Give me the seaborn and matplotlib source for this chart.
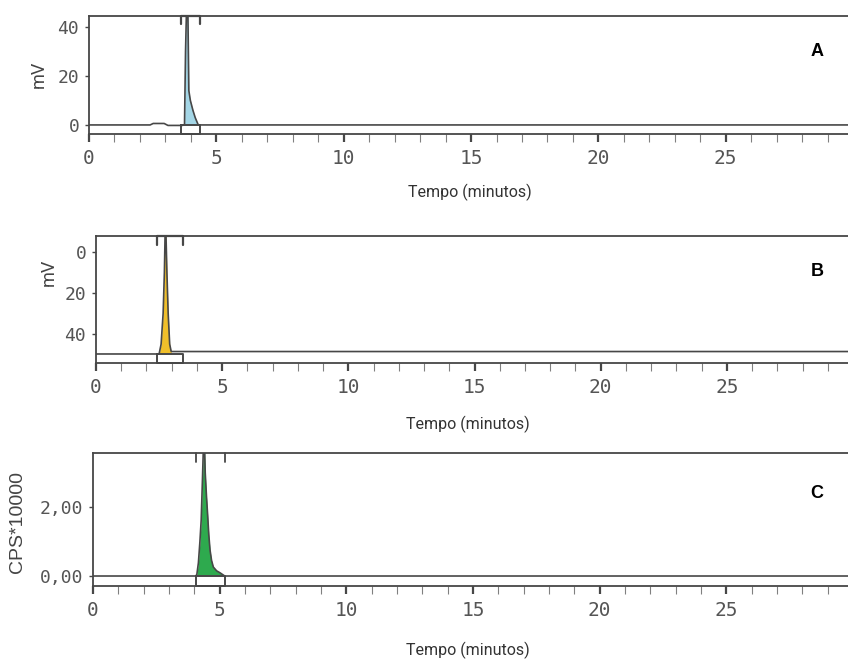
import numpy as np
import pandas as pd
import matplotlib
matplotlib.use("Agg")
import matplotlib.pyplot as plt
import seaborn as sns
from matplotlib.transforms import blended_transform_factory

# ---- chromatogram traces (time in minutes) ----
minute_ticks = [0, 5, 10, 15, 20, 25]

a_time = [0.0, 2.40, 2.52, 2.95, 3.10, 3.65, 3.75, 3.79, 3.83, 3.88, 3.92, 3.98, 4.08, 4.17, 4.29, 4.40, 30.0]
a_mv = [0.0, 0.0, 0.6, 0.6, -0.2, -0.2, 0.0, 30.0, 48.0, 48.0, 14.0, 10.0, 6.0, 3.0, 0.0, 0.0, 0.0]
a_yticks = [0, 20, 40]
a_window = (3.60, 4.35)
a_fill = (3.74, 4.30)

b_time = [0.0, 2.50, 2.58, 2.66, 2.71, 2.74, 2.77, 2.81, 2.86, 2.92, 2.98, 30.0]
b_mv = [49.8, 49.8, 45.0, 30.0, 10.0, -10.0, -10.0, 10.0, 30.0, 45.0, 48.6, 48.6]
b_yticks = [0, 20, 40]
b_window = (2.42, 3.45)
b_fill = (2.50, 2.98)

c_time = [0.0, 4.06, 4.10, 4.16, 4.22, 4.27, 4.32, 4.36, 4.40, 4.43, 4.48, 4.52, 4.57, 4.62, 4.68, 4.75, 4.88, 5.02, 5.20, 30.0]
c_cps = [0.0, 0.0, 0.05, 0.38, 1.00, 1.62, 2.80, 3.80, 3.80, 2.99, 2.30, 1.83, 1.20, 0.75, 0.45, 0.26, 0.15, 0.09, 0.0, 0.0]
c_yticks = [0.0, 2.0]
c_yticklabels = ["0,00", "2,00"]
c_window = (4.05, 5.20)
c_fill = (4.08, 5.20)

LINE = "#474747"
W, H = 848, 664

sns.set_theme(style="white")
plt.rcParams["font.family"] = ["DejaVu Sans"]

fig = plt.figure(figsize=(W / 100, H / 100), dpi=100)


def axes_at(left_px, top_px, bottom_px):
    return fig.add_axes([left_px / W, 1 - bottom_px / H,
                         (W - left_px) / W, (bottom_px - top_px) / H])


def draw_panel(ax, time, signal, base, fill_color, fill_span, window,
               ylim, yticks, yticklabels, top_bracket=True):
    df = pd.DataFrame({"t": time, "v": signal})
    t = np.asarray(time)
    v = np.asarray(signal)
    mask = (t >= fill_span[0]) & (t <= fill_span[1])
    ax.fill_between(t, base, v, where=mask, color=fill_color, lw=0, interpolate=True)
    sns.lineplot(data=df, x="t", y="v", ax=ax, color=LINE, lw=1.2,
                 estimator=None, sort=False)
    ax.set_xlim(0, 29.8)
    ax.set_ylim(*ylim)
    ax.set_xlabel("")
    ax.set_ylabel("")

    # integration window: box under the baseline and marks on the top edge
    bottom = ylim[0]
    ax.plot([window[0], window[0], window[1], window[1], window[0]],
            [base, bottom, bottom, base, base], color=LINE, lw=1.4, clip_on=False)
    trans = blended_transform_factory(ax.transData, ax.transAxes)
    if top_bracket:
        ax.plot([window[0], window[0], window[1], window[1]], [0.93, 1.0, 1.0, 0.93],
                color=LINE, lw=1.6, transform=trans, clip_on=False)
    else:
        for w in window:
            ax.plot([w, w], [0.93, 1.0], color=LINE, lw=1.3, transform=trans, clip_on=False)

    ax.set_xticks(minute_ticks)
    ax.set_xticks(np.arange(0, 30, 1), minor=True)
    ax.set_yticks(yticks)
    ax.set_yticklabels(yticklabels)
    ax.tick_params(axis="x", which="major", bottom=True, direction="out", length=6,
                   width=1.6, color=LINE, labelsize=14, labelcolor="#555555", pad=5,
                   labelfontfamily="DejaVu Sans Mono")
    ax.tick_params(axis="x", which="minor", bottom=True, direction="out", length=6,
                   width=0.8, color="#808080")
    ax.tick_params(axis="y", which="major", left=True, direction="out", length=3,
                   width=1.0, color=LINE, labelsize=13, labelcolor="#555555", pad=4,
                   labelfontfamily="DejaVu Sans Mono")
    ax.spines["right"].set_visible(False)
    for side in ("left", "top", "bottom"):
        ax.spines[side].set_color(LINE)
        ax.spines[side].set_linewidth(1.3)
    ax.set_facecolor("white")


def fig_text(x_px, y_px, s, **kw):
    fig.text(x_px / W, 1 - y_px / H, s, ha="center", va="center", **kw)


narrow = ["Roboto", "DejaVu Sans"]
arial = ["Liberation Sans", "DejaVu Sans"]

# Panel A
ax_a = axes_at(89, 16, 134)
draw_panel(ax_a, a_time, a_mv, 0.0, "#a4d6e6", a_fill, a_window,
           (-3.7, 44.5), a_yticks, [str(v) for v in a_yticks])
fig_text(39, 74, "mV", rotation=90, fontsize=13, color="#444444", family=narrow)
fig_text(470, 192, "Tempo (minutos)", fontsize=11.5, color="#333333", family=narrow)
fig_text(817, 52, "A", fontsize=13, fontweight="bold", color="black", family=arial)

# Panel B (inverted mV scale)
ax_b = axes_at(96, 236, 363)
draw_panel(ax_b, b_time, b_mv, 49.8, "#f0bf2a", b_fill, b_window,
           (54.2, -7.8), b_yticks, [str(v) for v in b_yticks])
fig_text(49, 272, "mV", rotation=90, fontsize=13, color="#444444", family=narrow)
fig_text(468, 424, "Tempo (minutos)", fontsize=11.5, color="#333333", family=narrow)
fig_text(817, 271, "B", fontsize=13, fontweight="bold", color="black", family=arial)

# Panel C
ax_c = axes_at(93, 453, 586)
draw_panel(ax_c, c_time, c_cps, 0.0, "#2eaa4e", c_fill, c_window,
           (-0.29, 3.57), c_yticks, c_yticklabels, top_bracket=False)
fig_text(18, 522, "CPS*10000", rotation=90, fontsize=14, color="#444444", family=arial)
fig_text(468, 650, "Tempo (minutos)", fontsize=11.5, color="#333333", family=narrow)
fig_text(817, 494, "C", fontsize=13, fontweight="bold", color="black", family=arial)

fig.savefig("out.png", dpi=100, facecolor="white")
